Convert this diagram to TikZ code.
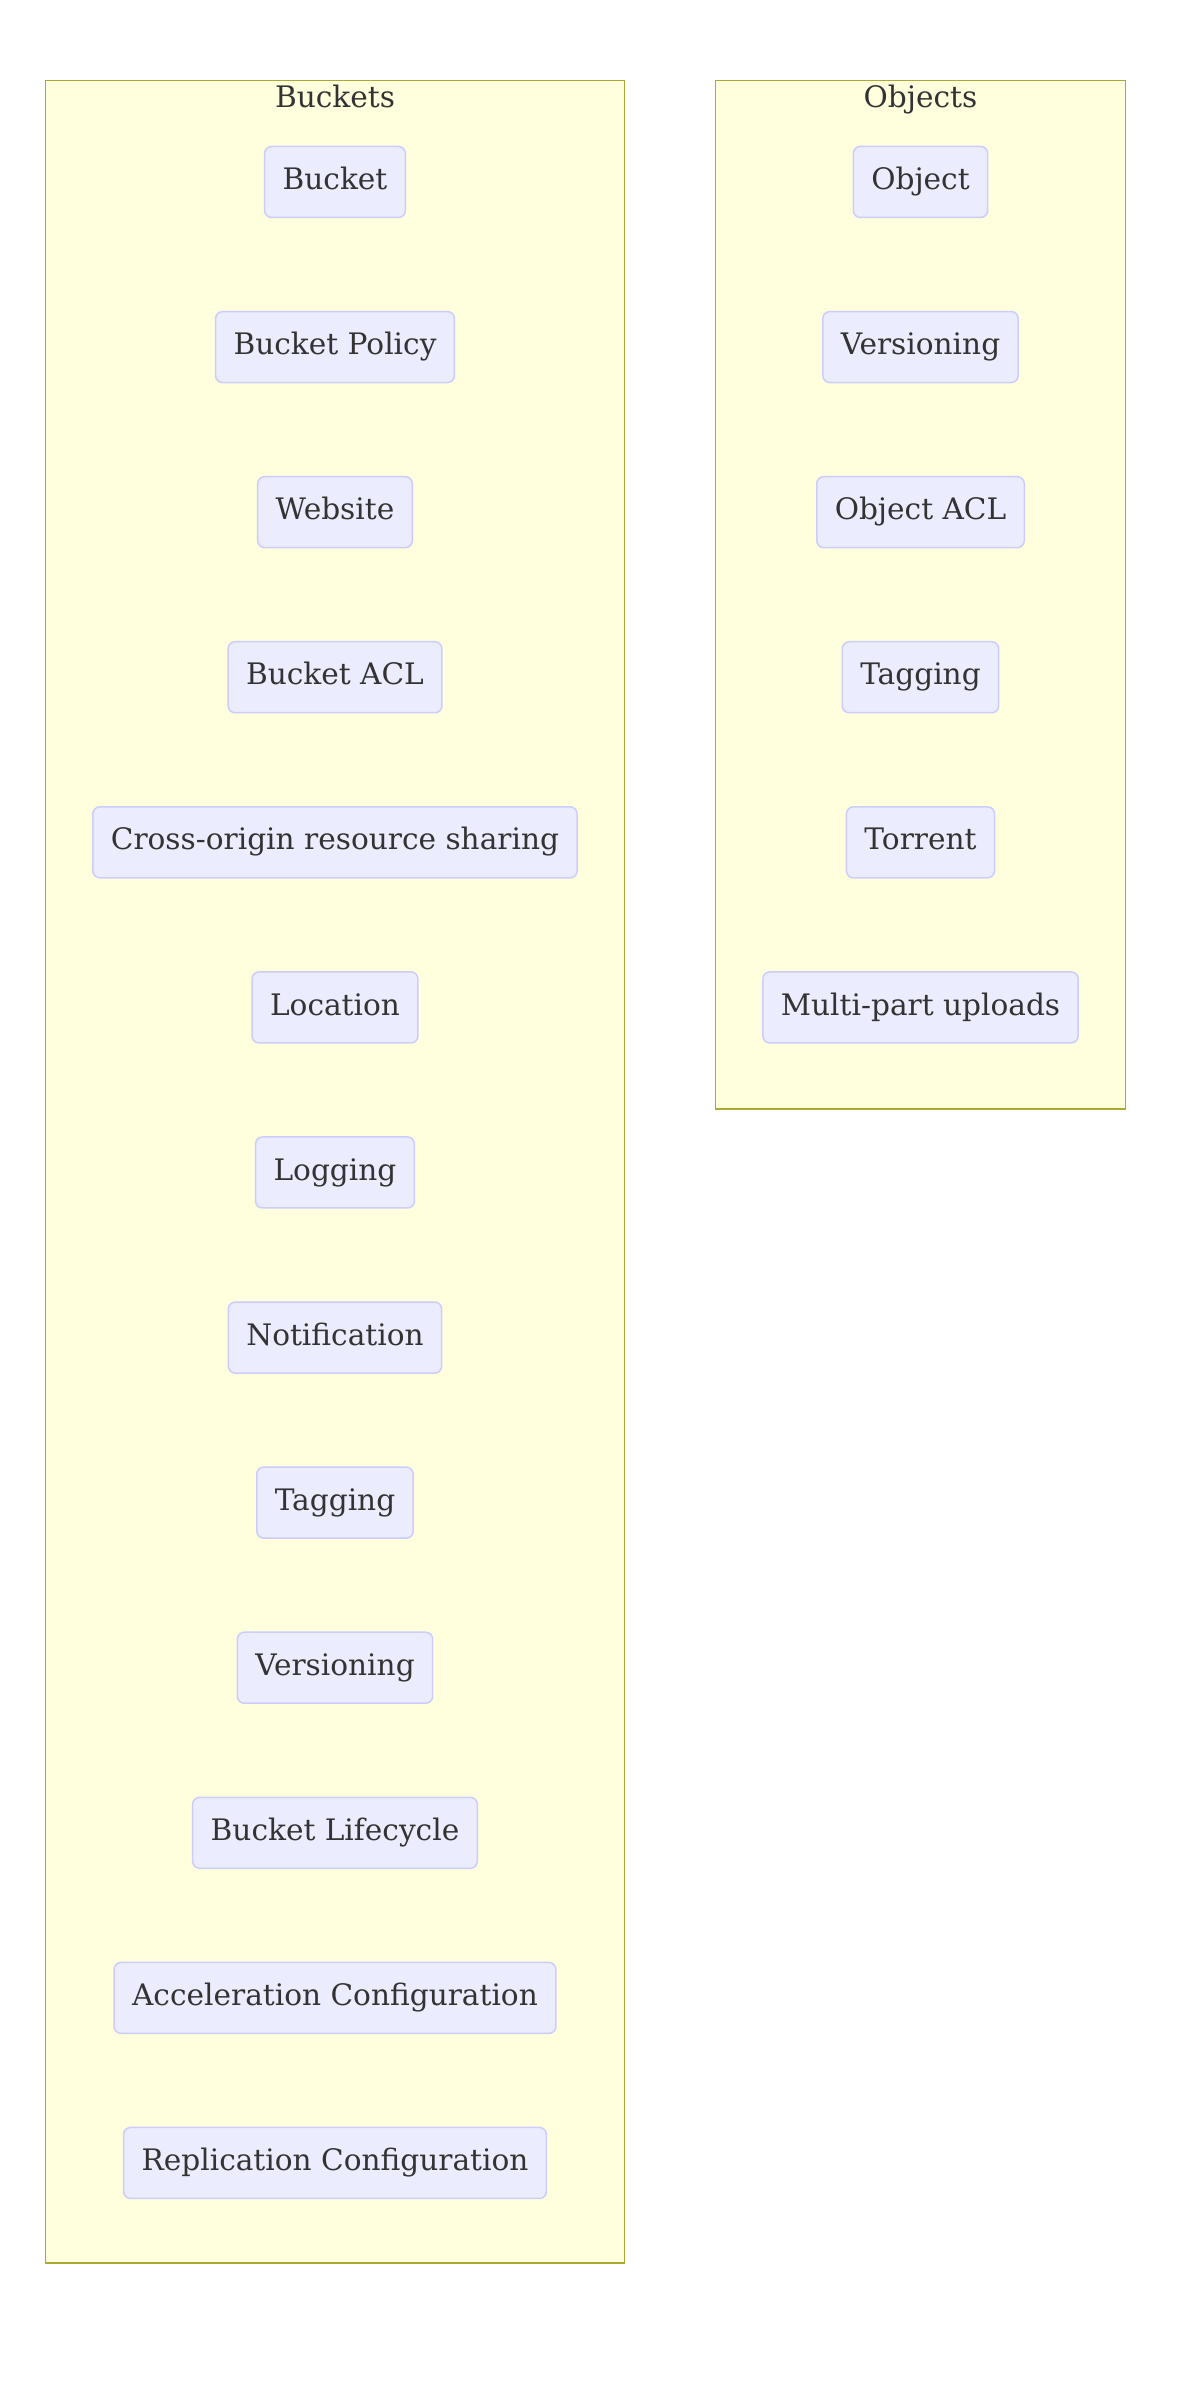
\documentclass[tikz,border=0pt]{standalone}
\usepackage{fontspec}
\setmainfont{DejaVu Serif}
\usetikzlibrary{positioning}
\definecolor{clusterfill}{HTML}{FFFFDE}
\definecolor{clusterline}{HTML}{AAAA33}
\definecolor{itemfill}{HTML}{ECECFF}
\definecolor{itemline}{HTML}{CCCCFF}
\definecolor{textgray}{HTML}{333333}
\tikzset{
  item/.style={draw=itemline, fill=itemfill, rounded corners=3.5pt,
    minimum height=35.5pt, inner xsep=9pt, line width=0.75pt,
    text height=10.8pt, text depth=3.2pt,
    text=textgray, font=\fontsize{14.8}{17}\selectfont},
  cluster/.style={draw=clusterline, fill=clusterfill, line width=0.75pt},
  clustertitle/.style={text=textgray, anchor=base, font=\fontsize{14.8}{17}\selectfont}
}

\begin{document}
\begin{tikzpicture}[x=0.5pt,y=-0.5pt]
  \useasboundingbox (0,0) rectangle (1200,2381);
  % subgraph boxes
  \draw[cluster] (45.6,80.5) rectangle (624.3,2263);
  \draw[cluster] (715.5,80.5) rectangle (1125.6,1109);
  \node[clustertitle] (bt) at (335,107.5) {Buckets};
  \node[clustertitle] (ot) at (920.5,107.5) {Objects};
  % left column
  \foreach \txt [count=\i] in {Bucket, Bucket Policy, Website, Bucket ACL,
      Cross-origin resource sharing, Location, Logging, Notification,
      Tagging, Versioning, Bucket Lifecycle, Acceleration Configuration,
      Replication Configuration}
    \node[item] (b\i) at (335,{182+165.08*(\i-1)}) {\txt};
  % right column
  \foreach \txt [count=\i] in {Object, Versioning, Object ACL, Tagging,
      Torrent, Multi-part uploads}
    \node[item] (o\i) at (920.5,{182+165.08*(\i-1)}) {\txt};
\end{tikzpicture}
\end{document}
